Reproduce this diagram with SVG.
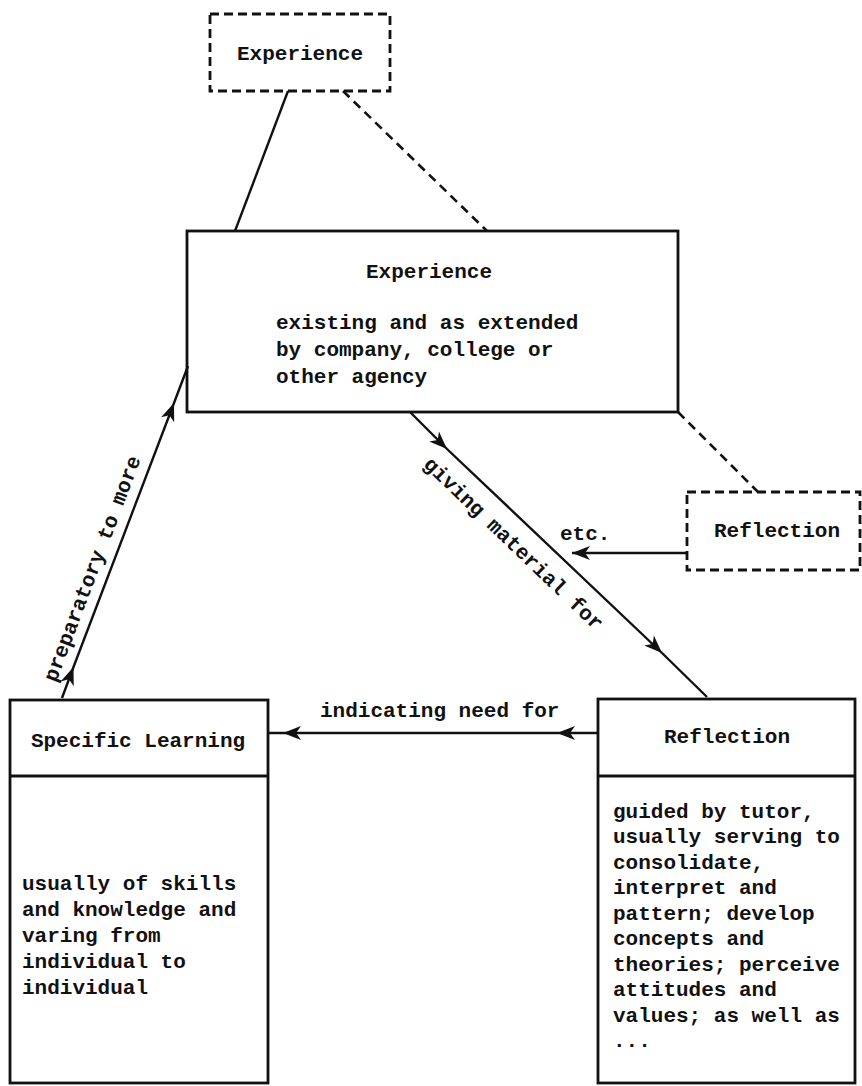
<svg xmlns="http://www.w3.org/2000/svg" width="862" height="1086" viewBox="0 0 862 1086">
<style>
text{font-family:"Liberation Mono","Courier New",monospace;font-size:21px;font-weight:bold;fill:#111}
.c{text-anchor:middle}
.box{fill:none;stroke:#111;stroke-width:2.8}
.dash{fill:none;stroke:#111;stroke-width:2.8;stroke-dasharray:9 5}
.ln{fill:none;stroke:#111;stroke-width:2.4}
.dl{fill:none;stroke:#111;stroke-width:2.6;stroke-dasharray:9 6}
</style>
<defs>
<marker id="ah" viewBox="-19 -8 20 16" markerWidth="20" markerHeight="16" refX="0" refY="0" orient="auto" markerUnits="userSpaceOnUse">
<path d="M0,0 L-18,-7 L-13,0 L-18,7 z" fill="#111"/>
</marker>
</defs>
<rect width="862" height="1086" fill="#fff"/>
<g id="connectors">
<path class="ln" d="M288,91 L235,231"/>
<path class="dl" d="M343,91 L487,231"/>
<path class="dl" d="M678,412 L758,492"/>
<path class="ln" d="M410,412 L447,449 L662,653 L707,697" marker-mid="url(#ah)"/>
<path class="ln" d="M687,553 L572,553" marker-end="url(#ah)"/>
<path class="ln" d="M598,733 L557,733 L283,733 L268,733" marker-mid="url(#ah)"/>
<path class="ln" d="M62,698 L73.5,667 L174,403 L188,366" marker-mid="url(#ah)"/>
<text transform="translate(410,412) rotate(43.8)" x="46" y="30">giving material for</text>
<text x="560" y="540">etc.</text>
<text x="320" y="717">indicating need for</text>
<text transform="translate(62,698) rotate(-69.2)" x="12" y="-11">preparatory to more</text>
</g>
<g id="experience-top">
<rect class="dash" x="210" y="14" width="180" height="77"/>
<text class="c" x="300" y="60">Experience</text>
</g>
<g id="experience-main">
<rect class="box" x="187" y="231" width="491" height="181"/>
<text class="c" x="429" y="278">Experience</text>
<text x="276" y="329">existing and as extended</text>
<text x="276" y="356">by company, college or</text>
<text x="276" y="383">other agency</text>
</g>
<g id="reflection-dashed">
<rect class="dash" x="687" y="492" width="173" height="78"/>
<text class="c" x="777" y="537">Reflection</text>
</g>
<g id="specific-learning">
<rect class="box" x="10" y="700" width="258" height="383"/>
<line class="box" x1="10" y1="776" x2="268" y2="776"/>
<text class="c" x="138" y="747">Specific Learning</text>
<text x="22" y="890">usually of skills</text>
<text x="22" y="916">and knowledge and</text>
<text x="22" y="942">varing from</text>
<text x="22" y="968">individual to</text>
<text x="22" y="994">individual</text>
</g>
<g id="reflection">
<rect class="box" x="598" y="699" width="257" height="384"/>
<line class="box" x1="598" y1="776" x2="855" y2="776"/>
<text class="c" x="727" y="743">Reflection</text>
<text x="613" y="818">guided by tutor,</text>
<text x="613" y="843">usually serving to</text>
<text x="613" y="869">consolidate,</text>
<text x="613" y="894">interpret and</text>
<text x="613" y="920">pattern; develop</text>
<text x="613" y="945">concepts and</text>
<text x="613" y="971">theories; perceive</text>
<text x="613" y="996">attitudes and</text>
<text x="613" y="1022">values; as well as</text>
<text x="613" y="1047">...</text>
</g>
</svg>
